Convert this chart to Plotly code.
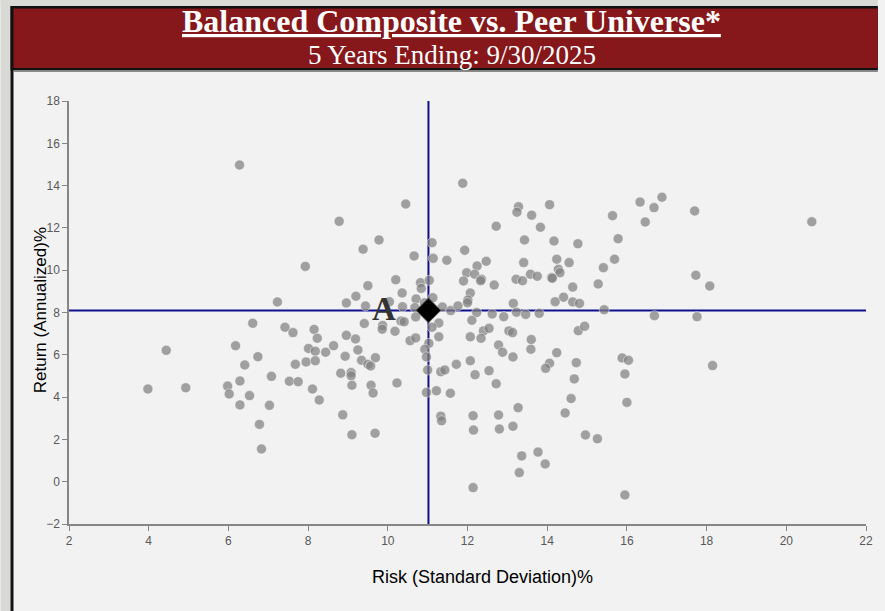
import plotly.graph_objects as go

# Peer universe: risk (std dev %) and return (annualized %)
peer_risk = [
    6.28, 8.78, 7.93, 7.23, 8.96, 6.61, 7.42, 7.62, 8.15, 8.23, 8.96, 4.44, 6.18, 8.01, 8.18,
    8.44, 8.64, 8.93, 6.74, 6.41, 7.68, 7.95, 8.18, 8.82, 3.98, 4.93, 5.98, 6.29, 7.08, 7.53,
    7.75, 6.02, 6.53, 8.11, 8.28, 6.29, 7.03, 8.87, 6.78, 6.83,
    11.88, 10.45, 13.28, 13.24, 12.72, 9.78, 9.38, 13.43, 11.11, 11.93, 10.66, 11.14, 11.48,
    12.47, 13.41, 12.24, 11.98, 12.18, 12.35, 12.33, 11.90, 12.67, 13.22, 13.38, 10.20, 9.50,
    10.82, 10.84, 11.04, 10.36, 9.20, 10.71, 11.13, 12.07, 12.01, 12.00, 9.44, 10.04, 10.37,
    10.68, 10.92, 11.37, 11.58, 11.76, 13.15, 13.23, 13.46, 12.23, 12.62, 12.91, 12.11, 9.41,
    9.87, 9.86, 10.33, 10.41, 10.70, 11.28, 11.11, 10.18, 9.19, 10.56, 10.70, 11.28, 12.40,
    12.54, 13.04, 13.13, 12.07, 12.34, 13.60, 13.59, 11.03, 10.93, 10.97, 9.25, 9.69, 9.34,
    9.50, 9.57, 9.08, 9.08, 9.10, 9.58, 9.63, 10.23, 11.00, 11.33, 11.43, 11.72, 12.07, 12.19,
    12.54, 12.72, 10.97, 11.22, 11.57, 12.78, 12.88, 13.14, 9.10, 9.68, 11.33, 11.35, 12.14,
    12.78, 13.27, 12.15, 12.80, 13.14, 13.36, 13.30, 12.14, 13.77, 13.95,
    16.33, 16.88, 16.68, 16.46, 17.70, 15.64, 15.78, 15.69, 15.41, 15.28, 15.43, 16.69, 17.76,
    17.73, 18.08, 20.64, 18.15, 14.06, 13.61, 13.83, 14.17, 14.77, 14.24, 14.55, 14.28, 14.32,
    14.11, 14.13, 13.58, 13.75, 14.64, 14.41, 14.20, 14.64, 14.81, 13.80, 14.78, 14.94, 14.24,
    14.06, 13.96, 14.73, 14.68, 14.60, 14.45, 15.88, 16.04, 15.95, 16.00, 14.96, 15.26, 15.95,
]
peer_return = [
    14.97, 12.31, 10.18, 8.50, 8.45, 7.49, 7.30, 7.05, 7.20, 6.78, 6.92, 6.21, 6.43, 6.30, 6.17,
    6.12, 6.43, 5.93, 5.91, 5.52, 5.55, 5.66, 5.72, 5.13, 4.38, 4.44, 4.52, 4.76, 4.98, 4.75,
    4.73, 4.15, 4.07, 4.38, 3.86, 3.63, 3.61, 3.16, 2.71, 1.55,
    14.11, 13.13, 13.00, 12.74, 12.08, 11.43, 10.99, 11.43, 11.30, 10.94, 10.67, 10.56, 10.47,
    10.42, 10.36, 10.20, 9.88, 9.81, 9.57, 9.50, 9.49, 9.30, 9.57, 9.50, 9.55, 9.27,
    9.41, 9.14, 9.52, 8.92, 8.77, 8.64, 8.70, 8.92, 8.59, 8.46, 8.31, 8.51, 8.27,
    8.23, 8.46, 8.26, 8.09, 8.31, 8.43, 8.01, 7.91, 8.00, 7.93, 7.80, 7.63, 7.48,
    7.38, 7.21, 7.60, 7.56, 7.79, 7.50, 7.30, 7.11, 6.75, 6.67, 6.80, 6.85, 7.13,
    7.25, 7.13, 7.05, 6.85, 6.78, 6.72, 6.26, 6.54, 6.26, 5.90, 6.23, 5.86, 5.74,
    5.55, 5.47, 5.16, 5.01, 4.56, 4.56, 4.19, 4.67, 5.28, 5.20, 5.28, 5.55, 5.72, 5.06,
    5.25, 4.63, 4.22, 4.30, 4.18, 6.46, 6.12, 5.90, 2.22, 2.29, 3.10, 2.88, 3.12,
    3.15, 3.50, 2.44, 2.49, 2.62, 1.22, 0.43, -0.28, 1.40, 0.84,
    13.22, 13.45, 12.96, 12.28, 12.80, 12.58, 11.49, 10.52, 10.12, 9.35, 8.13, 7.85, 7.80,
    9.76, 9.25, 12.29, 5.49, 13.10, 12.60, 12.03, 11.38, 11.25, 10.52, 10.36, 10.04, 9.88,
    9.65, 9.62, 9.81, 9.71, 9.20, 8.72, 8.51, 8.50, 8.43, 7.96, 7.14, 7.35, 6.10,
    5.60, 5.36, 5.63, 4.86, 3.93, 3.25, 5.85, 5.74, 5.09, 3.75, 2.21, 2.03, -0.63,
]

# Balanced Composite
composite_risk = [11.02]
composite_return = [8.10]
composite_label = "A"

title_text = "Balanced Composite vs. Peer Universe*"
subtitle_text = "5 Years Ending: 9/30/2025"
x_title = "Risk (Standard Deviation)%"
y_title = "Return (Annualized)%"
x_range = [2, 22]
y_range = [-2, 18]

W, H = 885, 611
L, R, T, B = 69, 873, 101, 524


def px(x):
    return (x - L) / (R - L)


def py(y):
    return (B - y) / (B - T)


fig = go.Figure()

fig.add_trace(go.Scatter(
    x=peer_risk, y=peer_return, mode="markers",
    marker=dict(size=10, color="rgba(128,128,128,0.72)",
                line=dict(width=1, color="rgba(255,255,255,0.45)")),
    hoverinfo="x+y", showlegend=False,
))
fig.add_trace(go.Scatter(
    x=composite_risk, y=composite_return, mode="markers",
    marker=dict(size=19, symbol="diamond", color="#000000",
                line=dict(width=1, color="#555555")),
    showlegend=False,
))

shapes = []
# outer page strips
shapes.append(dict(type="rect", xref="paper", yref="paper", x0=px(0), x1=px(10), y0=py(0), y1=py(W),
                   fillcolor="#d9dad5", line=dict(width=0), layer="below"))
shapes.append(dict(type="rect", xref="paper", yref="paper", x0=px(0), x1=px(W), y0=py(0), y1=py(6),
                   fillcolor="#d9dad5", line=dict(width=0), layer="below"))
# black frame around header and left border
shapes.append(dict(type="rect", xref="paper", yref="paper", x0=px(10), x1=px(W), y0=py(6), y1=py(70.5),
                   fillcolor="#111111", line=dict(width=0), layer="below"))
shapes.append(dict(type="rect", xref="paper", yref="paper", x0=px(10), x1=px(13), y0=py(6), y1=py(W),
                   fillcolor="#111111", line=dict(width=0), layer="below"))
shapes.append(dict(type="rect", xref="paper", yref="paper", x0=px(13), x1=px(W), y0=py(8.5), y1=py(68),
                   fillcolor="#86171a", line=dict(width=0), layer="below"))
shapes.append(dict(type="rect", xref="paper", yref="paper", x0=px(13), x1=px(W), y0=py(70.5), y1=py(72),
                   fillcolor="#8a8a8a", line=dict(width=0), layer="below"))
# cross lines at the composite
shapes.append(dict(type="line", xref="x", yref="y", x0=composite_risk[0], x1=composite_risk[0],
                   y0=y_range[0], y1=y_range[1], line=dict(color="#10108f", width=2), layer="below"))
shapes.append(dict(type="line", xref="x", yref="y", x0=x_range[0], x1=x_range[1],
                   y0=composite_return[0], y1=composite_return[0],
                   line=dict(color="#10108f", width=2), layer="below"))

annotations = [
    dict(text="<b><u>" + title_text + "</u></b>", xref="paper", yref="paper",
         x=px(455), y=py(21), showarrow=False, xanchor="center", yanchor="middle",
         font=dict(family="Liberation Serif, DejaVu Serif, serif", size=32, color="#ffffff")),
    dict(text=subtitle_text, xref="paper", yref="paper",
         x=px(455), y=py(55), showarrow=False, xanchor="center", yanchor="middle",
         font=dict(family="Liberation Serif, DejaVu Serif, serif", size=27, color="#ffffff")),
    dict(text="<b>" + composite_label + "</b>", xref="x", yref="y",
         x=9.9, y=8.15, showarrow=False, xanchor="center", yanchor="middle",
         font=dict(family="Liberation Serif, DejaVu Serif, serif", size=33, color="#333333")),
    dict(text=y_title, xref="paper", yref="paper", x=px(40), y=py(310), textangle=-90,
         showarrow=False, xanchor="center", yanchor="middle",
         font=dict(family="Liberation Sans Narrow, Liberation Sans, Arial, sans-serif", size=17, color="#000000")),
    dict(text=x_title, xref="paper", yref="paper", x=px(486), y=py(577),
         showarrow=False, xanchor="center", yanchor="middle",
         font=dict(family="Liberation Sans Narrow, Liberation Sans, Arial, sans-serif", size=18, color="#000000")),
]

axis_common = dict(
    showgrid=False, zeroline=False, showline=True, linecolor="#868686", linewidth=1.5,
    ticks="outside", ticklen=5, tickcolor="#868686", tickwidth=1, dtick=2,
    tickfont=dict(family="Liberation Sans Narrow, Liberation Sans, Arial, sans-serif", size=12, color="#595959"),
)

fig.update_layout(
    width=W, height=H,
    margin=dict(l=L, r=W - R, t=T, b=H - B, pad=0),
    paper_bgcolor="#f2f2f2", plot_bgcolor="#f2f2f2",
    xaxis=dict(range=x_range, tick0=2, **axis_common),
    yaxis=dict(range=y_range, tick0=-2, **axis_common),
    shapes=shapes, annotations=annotations,
    showlegend=False,
)

fig.write_html(
    "out.html",
    config={"displayModeBar": False},
    post_script="document.body.style.margin='0';document.body.style.padding='0';"
                "document.body.style.overflow='hidden';",
)
